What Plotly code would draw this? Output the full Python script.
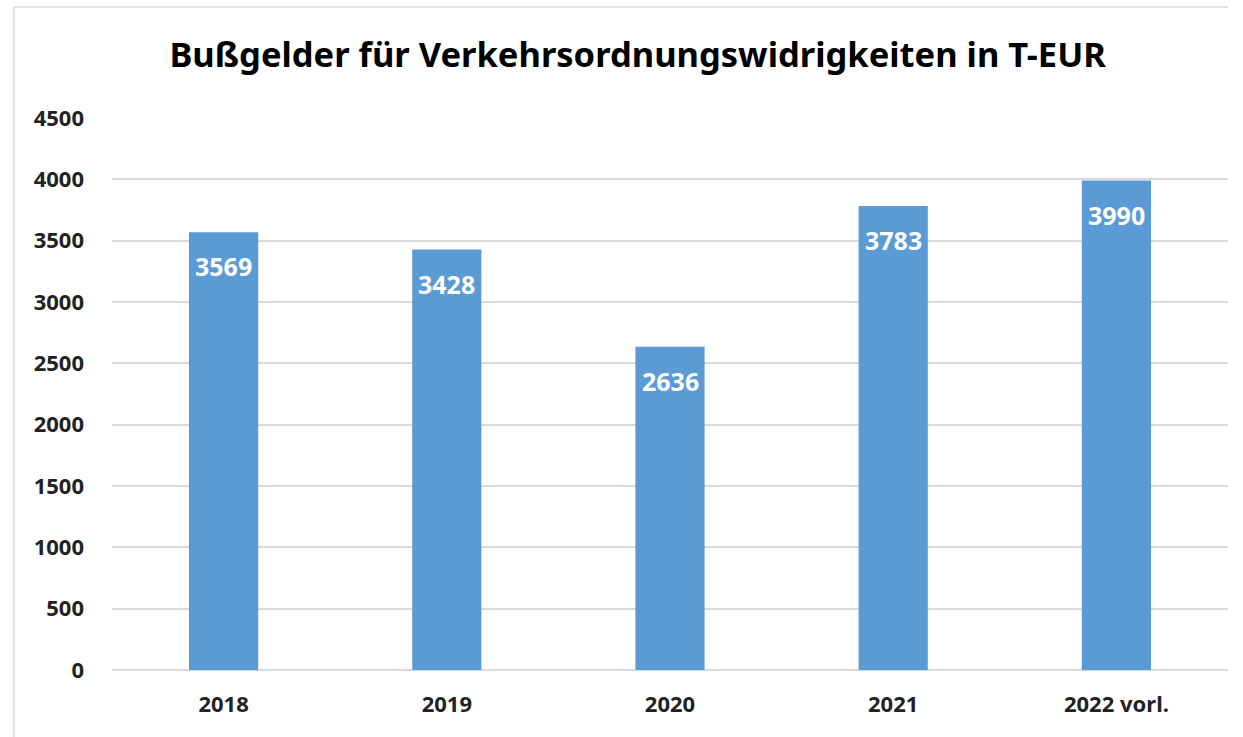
import plotly.graph_objects as go

categories = ["2018", "2019", "2020", "2021", "2022 vorl."]
values = [3569, 3428, 2636, 3783, 3990]
y_ticks = [0, 500, 1000, 1500, 2000, 2500, 3000, 3500, 4000, 4500]

fig = go.Figure()
fig.add_trace(go.Bar(
    x=categories, y=values,
    marker=dict(color="#5b9bd5", line=dict(width=0)),
    hoverinfo="x+y",
))
for i, v in enumerate(values):
    fig.add_annotation(x=i, y=v, xref="x", yref="y", text=str(v), showarrow=False,
                       yanchor="top", yshift=-15,
                       font=dict(family="Noto Sans", size=25, color="white", weight="bold"))

fig.update_layout(
    width=1243, height=737,
    margin=dict(l=112, r=15, t=118, b=67),
    paper_bgcolor="white", plot_bgcolor="white",
    bargap=0.69,
    showlegend=False,
    title=dict(text="Bußgelder für Verkehrsordnungswidrigkeiten in T-EUR",
               x=0.513, xanchor="center", y=0.925, yanchor="middle",
               font=dict(family="Noto Sans", size=34.5, color="black", weight="bold")),
    xaxis=dict(type="category", categoryorder="array", categoryarray=categories,
               range=[-0.5, len(categories) - 0.5],
               showline=False, ticks="", showgrid=False, ticklabelstandoff=19,
               tickfont=dict(family="Noto Sans", size=22, color="#222", weight="bold")),
    yaxis=dict(range=[0, 4500], tickvals=y_ticks, showgrid=True, gridcolor="#d9d9d9",
               gridwidth=1.5, zeroline=True, zerolinecolor="#d9d9d9", zerolinewidth=1.5,
               showline=False, ticks="", ticklabelstandoff=27,
               tickfont=dict(family="Noto Sans", size=22, color="#222", weight="bold")),
)
fig.add_shape(type="line", xref="paper", yref="paper", x0=-0.088, x1=-0.088, y0=-0.122, y1=1.201,
              line=dict(color="#d9d9d9", width=1.5))
fig.add_shape(type="line", xref="paper", yref="paper", x0=-0.088, x1=1.0, y0=1.201, y1=1.201,
              line=dict(color="#d9d9d9", width=1.5))
fig.write_html("out.html")
